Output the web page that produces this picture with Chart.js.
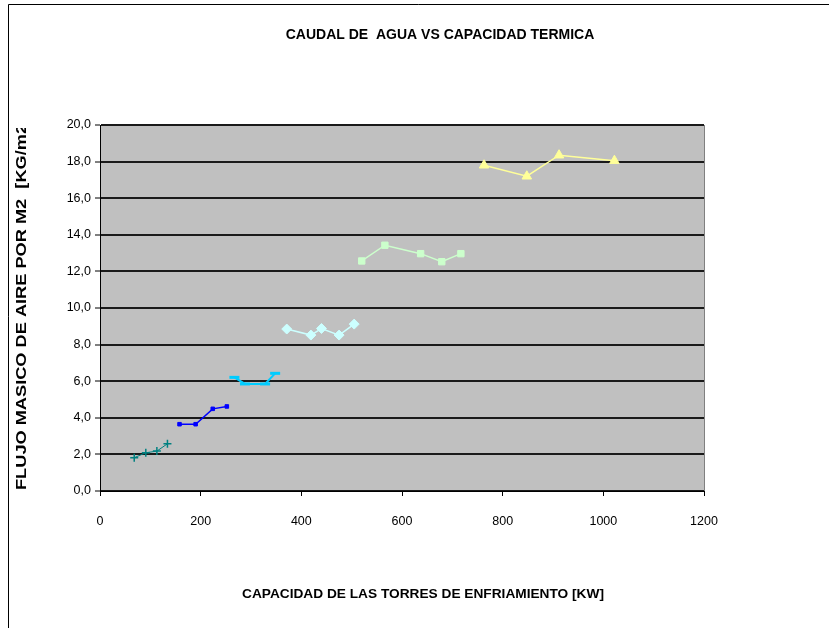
<!DOCTYPE html>
<html>
<head>
<meta charset="utf-8">
<script src="https://cdn.jsdelivr.net/npm/chart.js@4/dist/chart.umd.min.js"></script>
<style>
  html, body { margin: 0; padding: 0; background: #fff; }
  #wrap { width: 829px; height: 628px; position: relative; }
</style>
</head>
<body>
<div id="wrap"><canvas id="chart" width="829" height="628"></canvas></div>
<script>
// data
const chartTitle = "CAUDAL DE  AGUA VS CAPACIDAD TERMICA";
const xTitle = "CAPACIDAD DE LAS TORRES DE ENFRIAMIENTO [KW]";
const yTitle = "FLUJO MASICO DE AIRE POR M2  [KG/m2s]";

const tealX = [68, 91, 113, 134];
const tealY = [1.82, 2.09, 2.18, 2.58];
const blueX = [158, 190, 224, 252];
const blueY = [3.65, 3.65, 4.49, 4.62];
const skyX = [267, 288, 328, 348];
const skyY = [6.21, 5.85, 5.85, 6.43];
const iceX = [371, 419, 440, 475, 505];
const iceY = [8.85, 8.52, 8.88, 8.52, 9.12];
const mintX = [520, 566, 637, 679, 717];
const mintY = [12.57, 13.43, 12.97, 12.53, 12.97];
const lemonX = [763, 848, 912, 1022];
const lemonY = [17.8, 17.2, 18.35, 18.05];

const pts = (xs, ys) => xs.map((x, i) => ({ x, y: ys[i] }));

const plain = "'Liberation Sans', Arial, sans-serif";

function series(label, data, color, style, radius, lineW, ptBorder) {
  return {
    label, data,
    showLine: true,
    borderColor: color,
    backgroundColor: color,
    borderWidth: lineW,
    pointStyle: style,
    pointRadius: radius,
    pointBorderWidth: ptBorder,
    pointBorderColor: color,
    pointBackgroundColor: color,
    tension: 0
  };
}

// frame + titles drawn on the canvas
const decor = {
  id: "decor",
  beforeDraw(chart) {
    const c = chart.ctx;
    c.save();
    c.fillStyle = "#fff";
    c.fillRect(0, 0, chart.width, chart.height);
    c.strokeStyle = "#000";
    c.lineWidth = 1;
    c.beginPath();
    c.moveTo(8.5, 628);
    c.lineTo(8.5, 4.5);
    c.lineTo(829, 4.5);
    c.stroke();
    c.restore();
  },
  afterDraw(chart) {
    const c = chart.ctx;
    c.save();
    c.fillStyle = "#000";
    c.textAlign = "center";
    c.textBaseline = "middle";
    c.font = "bold 14px " + plain;
    c.fillText(chartTitle, 440, 35);
    c.font = "bold 13.7px " + plain;
    c.fillText(xTitle, 423, 594);
    // y title, clipped at the top like the reference
    c.beginPath();
    c.rect(0, 128, 60, 500);
    c.clip();
    c.translate(22, 490);
    c.rotate(-Math.PI / 2);
    c.scale(1.3, 1);
    c.textAlign = "left";
    c.font = "bold 14px " + plain;
    c.fillText(yTitle, 0, 0);
    c.restore();
  }
};

new Chart(document.getElementById("chart"), {
  type: "scatter",
  data: {
    datasets: [
      series("teal", pts(tealX, tealY), "#008080", "cross", 4, 1, 1.5),
      series("blue", pts(blueX, blueY), "#0000FF", "rect", 2.5, 1.5, 1),
      series("sky", pts(skyX, skyY), "#00CCFF", "line", 5, 2, 3),
      series("ice", pts(iceX, iceY), "#CCFFFF", "rectRot", 5, 1.5, 1),
      series("mint", pts(mintX, mintY), "#CCFFCC", "rect", 4.5, 1.5, 1),
      series("lemon", pts(lemonX, lemonY), "#FFFF99", "triangle", 5.5, 1.5, 1)
    ]
  },
  options: {
    responsive: false,
    animation: false,
    layout: { padding: { left: 0, right: 125, top: 125, bottom: 97 } },
    plugins: {
      legend: { display: false },
      tooltip: { enabled: false },
      title: { display: false }
    },
    scales: {
      x: {
        type: "linear",
        min: 0, max: 1200,
        ticks: {
          stepSize: 200, color: "#000", font: { family: plain, size: 12.5 }, padding: 18,
          callback: v => String(v)
        },
        grid: { drawOnChartArea: false, drawTicks: true, tickLength: 5, color: "#000" },
        border: { color: "#000", width: 1 },
        afterFit(s) { s.height = 40; }
      },
      y: {
        min: 0, max: 20,
        ticks: {
          stepSize: 2, color: "#000", font: { family: plain, size: 12.5 }, padding: 4,
          callback: v => v.toFixed(1).replace(".", ",")
        },
        grid: { color: "#1a1a1a", lineWidth: 2, tickLength: 5, tickColor: "#000", tickWidth: 1 },
        border: { color: "#000", width: 1 },
        afterFit(s) { s.width = 100; }
      }
    }
  },
  plugins: [decor, {
    id: "plotbg",
    beforeDraw(chart) {
      const a = chart.chartArea, c = chart.ctx;
      c.save();
      c.fillStyle = "#C0C0C0";
      c.fillRect(a.left, a.top, a.right - a.left, a.bottom - a.top);
      c.strokeStyle = "#808080";
      c.lineWidth = 1;
      c.beginPath();
      c.moveTo(a.right + 0.5, a.top);
      c.lineTo(a.right + 0.5, a.bottom);
      c.stroke();
      c.restore();
    }
  }]
});
</script>
</body>
</html>
